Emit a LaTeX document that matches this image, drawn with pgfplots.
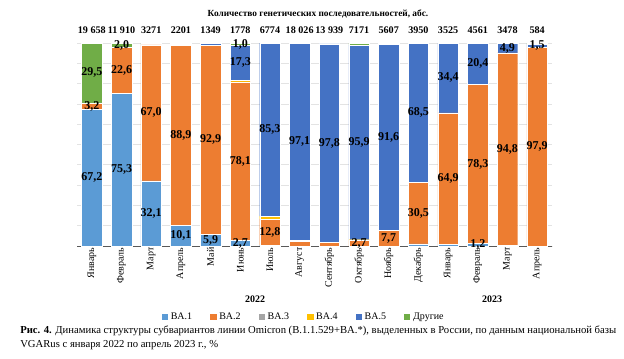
\documentclass[border=0pt]{standalone}
\usepackage{pgfplots}
\pgfplotsset{compat=1.18}
\usepackage{pgfplotstable}
\usepackage{fontspec}
\setmainfont{Liberation Serif}
\definecolor{cBAone}{HTML}{5B9BD5}
\definecolor{cBAtwo}{HTML}{ED7D31}
\definecolor{cBAthree}{HTML}{A5A5A5}
\definecolor{cBAfour}{HTML}{FFC000}
\definecolor{cBAfive}{HTML}{4472C4}
\definecolor{cOther}{HTML}{70AD47}

\pgfplotstableread{
x ba1 ba2 ba3 ba4 ba5 oth
0 67.2 3.2 0.1 0 0 29.5
1 75.3 22.6 0.1 0 0 2.0
2 32.1 67.0 0.4 0 0 0.5
3 10.1 88.9 0.5 0 0 0.5
4 5.9 92.9 0 0 1.0 0.2
5 2.7 78.1 0 0.9 17.3 1.0
6 0.4 12.8 0 1.5 85.3 0
7 0 2.4 0 0.5 97.1 0
8 0 1.8 0 0 97.8 0.4
9 0 2.7 0 0.4 95.9 1.0
10 0 7.7 0 0 91.6 0.7
11 1.0 30.5 0 0 68.5 0
12 0.7 64.9 0 0 34.4 0
13 1.2 78.3 0 0 20.4 0.1
14 0.3 94.8 0 0 4.9 0
15 0 97.9 0 0 1.5 0.6
}\datatable

\pgfplotstableread[col sep=semicolon]{
x;y;t
0;33.6;67,2
0;68.8;3,2
0;85.25;29,5
1;37.65;75,3
1;86.6;22,6
1;99.0;2,0
2;16.05;32,1
2;65.6;67,0
3;5.05;10,1
3;54.55;88,9
4;2.95;5,9
4;52.35;92,9
5;1.35;2,7
5;41.75;78,1
5;90.35;17,3
5;99.5;1,0
6;6.8;12,8
6;57.35;85,3
7;51.45;97,1
8;50.7;97,8
9;1.35;2,7
9;51.05;95,9
10;3.85;7,7
10;53.5;91,6
11;16.25;30,5
11;65.75;68,5
12;33.15;64,9
12;82.8;34,4
13;0.6;1,2
13;40.35;78,3
13;89.7;20,4
14;47.7;94,8
14;97.55;4,9
15;48.95;97,9
15;98.65;1,5
}\labtable

\pgfplotstableread[col sep=semicolon]{
x;y;t
0;100;19 658
1;100;11 910
2;100;3271
3;100;2201
4;100;1349
5;100;1778
6;100;6774
7;100;18 026
8;100;13 939
9;100;7171
10;100;5607
11;100;3950
12;100;3525
13;100;4561
14;100;3478
15;100;584
}\counttable

\pgfplotsset{myleg/.style={legend image code/.code={\fill[##1,draw=none] (0pt,-2.4pt) rectangle (4.8pt,2.4pt);}}}

\begin{document}
\begin{tikzpicture}
\useasboundingbox (0,0) rectangle (468pt,-268.5pt);
\begin{axis}[
  at={(57.75pt,-184.5pt)}, anchor=south west,
  scale only axis, width=356.25pt, height=152.25pt,
  ybar stacked, bar width=15.4pt,
  xmin=-0.5, xmax=15.5, ymin=0, ymax=100,
  xtick={0,...,15},
  xticklabels={Январь,Февраль,Март,Апрель,Май,Июнь,Июль,Август,Сентябрь,Октябрь,Ноябрь,Декабрь,Январь,Февраль,Март,Апрель},
  xticklabel style={rotate=90, anchor=east, font=\fontsize{7.5}{9}\selectfont, inner sep=1pt},
  major tick length=0pt,
  ytick={0,10,...,100}, yticklabels={},
  ymajorgrids, grid style={draw=gray!22, line width=0.5pt},
  axis x line*=bottom, axis y line*=left,
  y axis line style={draw=none},
  x axis line style={draw=black!65, line width=0.6pt, -},
  legend style={at={(0.478,-0.35)}, anchor=center, draw=none, fill=none,
    legend columns=6, font=\fontsize{7.5}{9}\selectfont,
    /tikz/every even column/.append style={column sep=11.5pt}},
]
\addplot[fill=cBAone, draw=white, line width=0.3pt, myleg] table[x=x,y=ba1]{\datatable};
\addplot[fill=cBAtwo, draw=white, line width=0.3pt, myleg] table[x=x,y=ba2]{\datatable};
\addplot[fill=cBAthree, draw=white, line width=0.3pt, myleg] table[x=x,y=ba3]{\datatable};
\addplot[fill=cBAfour, draw=white, line width=0.3pt, myleg] table[x=x,y=ba4]{\datatable};
\addplot[fill=cBAfive, draw=white, line width=0.3pt, myleg] table[x=x,y=ba5]{\datatable};
\addplot[fill=cOther, draw=white, line width=0.3pt, myleg] table[x=x,y=oth]{\datatable};
\legend{BA.1,BA.2,BA.3,BA.4,BA.5,Другие}
\draw[black!65, line width=0.6pt] (axis cs:-0.5,0) -- ++(0pt,-45pt);
\draw[black!65, line width=0.6pt] (axis cs:11.5,0) -- ++(0pt,-45pt);
\draw[black!65, line width=0.6pt] (axis cs:15.5,0) -- ++(0pt,-45pt);
\end{axis}
\begin{axis}[
  at={(57.75pt,-184.5pt)}, anchor=south west,
  scale only axis, width=356.25pt, height=152.25pt,
  xmin=-0.5, xmax=15.5, ymin=0, ymax=100,
  hide axis, clip=false,
]
\addplot[draw=none, mark=none, nodes near coords, point meta=explicit symbolic,
  nodes near coords align=center,
  every node near coord/.append style={font=\bfseries\fontsize{9}{10}\selectfont, text=black, inner sep=0pt}]
  table[x=x,y=y,meta=t]{\labtable};
\addplot[draw=none, mark=none, nodes near coords, point meta=explicit symbolic,
  nodes near coords align=center,
  every node near coord/.append style={font=\bfseries\fontsize{7.6}{9}\selectfont, text=black, inner sep=0pt, yshift=9.5pt}]
  table[x=x,y=y,meta=t]{\counttable};
\end{axis}
\node[font=\bfseries\fontsize{7}{8}\selectfont] at (238.5pt,-10.5pt) {Количество генетических последовательностей, абс.};
\node[font=\bfseries\fontsize{7.5}{9}\selectfont] at (191.25pt,-224.25pt) {2022};
\node[font=\bfseries\fontsize{7.5}{9}\selectfont] at (369pt,-224.25pt) {2023};
\node[anchor=north west, inner sep=0pt, text width=447pt, align=justify, font=\fontsize{8}{10.5}\selectfont] at (15pt,-244.5pt)
  {\textbf{Рис. 4.} Динамика структуры субвариантов линии Omicron (B.1.1.529+BA.*), выделенных в России, по данным национальной базы VGARus с января 2022 по апрель 2023 г., \%};
\end{tikzpicture}
\end{document}
